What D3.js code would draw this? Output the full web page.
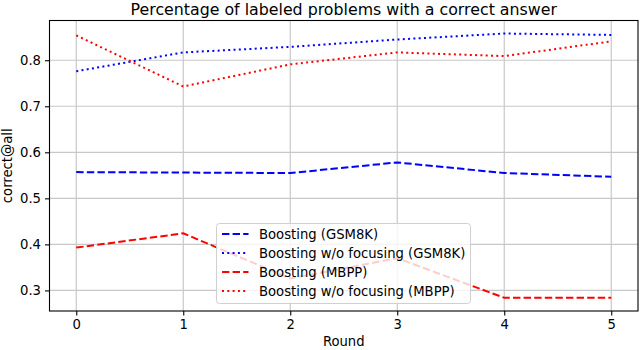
<!DOCTYPE html>
<html>
<head>
<meta charset="utf-8">
<script src="https://cdn.jsdelivr.net/npm/d3@7"></script>
<style>
  body { margin: 0; background: #fff; }
  svg { font-family: "DejaVu Sans", sans-serif; }
</style>
</head>
<body>
<svg id="chart" width="640" height="350"></svg>
<script>
const rounds = [0, 1, 2, 3, 4, 5];
const boostingGSM8K = [0.557, 0.556, 0.555, 0.578, 0.555, 0.547];
const noFocusGSM8K = [0.776, 0.817, 0.829, 0.845, 0.858, 0.855];
const boostingMBPP = [0.393, 0.424, 0.326, 0.370, 0.284, 0.284];
const noFocusMBPP = [0.854, 0.743, 0.791, 0.817, 0.809, 0.841];
const xTicks = [0, 1, 2, 3, 4, 5];
const yTicks = [0.3, 0.4, 0.5, 0.6, 0.7, 0.8];
const seriesNames = ["Boosting (GSM8K)", "Boosting w/o focusing (GSM8K)", "Boosting (MBPP)", "Boosting w/o focusing (MBPP)"];
const seriesColors = ["#0000ff", "#0000ff", "#ff0000", "#ff0000"];
const seriesDash = ["7.4,3.2", "2,3.3", "7.4,3.2", "2,3.3"];
const seriesData = [boostingGSM8K, noFocusGSM8K, boostingMBPP, noFocusMBPP];

const svg = d3.select("#chart");
const L = 49.5, R = 638, T = 20.5, B = 311;
const x = d3.scaleLinear().domain([-0.25, 5.25]).range([L, R]);
const y = d3.scaleLinear().domain([0.2553, 0.8863]).range([B, T]);

// grid
const g = svg.append("g");
g.selectAll(".gx").data(xTicks).enter().append("line")
  .attr("x1", d => x(d)).attr("x2", d => x(d)).attr("y1", T).attr("y2", B)
  .attr("stroke", "#c8c8c8").attr("stroke-width", 1.2);
g.selectAll(".gy").data(yTicks).enter().append("line")
  .attr("x1", L).attr("x2", R).attr("y1", d => y(d)).attr("y2", d => y(d))
  .attr("stroke", "#c8c8c8").attr("stroke-width", 1.2);

// lines
const line = d3.line().x((d, i) => x(rounds[i])).y(d => y(d));
seriesData.forEach((s, k) => {
  svg.append("path").datum(s).attr("d", line)
    .attr("fill", "none").attr("stroke", seriesColors[k])
    .attr("stroke-width", 2).attr("stroke-dasharray", seriesDash[k]);
});

// axes
const xAxis = d3.axisBottom(x).tickValues(xTicks).tickFormat(d3.format("d")).tickSize(4.5).tickPadding(4);
const yAxis = d3.axisLeft(y).tickValues(yTicks).tickFormat(d3.format(".1f")).tickSize(4.5).tickPadding(4);
const gx = svg.append("g").attr("transform", `translate(0,${B})`).call(xAxis);
const gy = svg.append("g").attr("transform", `translate(${L},0)`).call(yAxis);
[gx, gy].forEach(a => {
  a.select(".domain").remove();
  a.selectAll("line").attr("stroke", "#000").attr("stroke-width", 1.1);
  a.selectAll("text").attr("font-size", 13.2).attr("fill", "#000").attr("font-family", "DejaVu Sans");
});
// frame
svg.append("rect").attr("x", L).attr("y", T).attr("width", R - L).attr("height", B - T)
  .attr("fill", "none").attr("stroke", "#000").attr("stroke-width", 1.1);

// labels
svg.append("text").attr("x", (L + R) / 2).attr("y", 15).attr("text-anchor", "middle")
  .attr("font-size", 15.8).text("Percentage of labeled problems with a correct answer");
svg.append("text").attr("x", (L + R) / 2).attr("y", 346).attr("text-anchor", "middle")
  .attr("font-size", 13.2).text("Round");
svg.append("text").attr("transform", `translate(12,${(T + B) / 2}) rotate(-90)`)
  .attr("text-anchor", "middle").attr("font-size", 13.2).text("correct@all");

// legend
const lg = svg.append("g");
lg.append("rect").attr("x", 216.5).attr("y", 223.5).attr("width", 254).attr("height", 80)
  .attr("rx", 3).attr("fill", "#fff").attr("fill-opacity", 0.8).attr("stroke", "#d0d0d0").attr("stroke-width", 1);
seriesNames.forEach((n, k) => {
  const yy = 234 + k * 19;
  lg.append("line").attr("x1", 222).attr("x2", 248.5).attr("y1", yy).attr("y2", yy)
    .attr("stroke", seriesColors[k]).attr("stroke-width", 2).attr("stroke-dasharray", seriesDash[k]);
  lg.append("text").attr("x", 259).attr("y", yy + 4.5).attr("font-size", 13.2).text(n);
});
</script>
</body>
</html>
